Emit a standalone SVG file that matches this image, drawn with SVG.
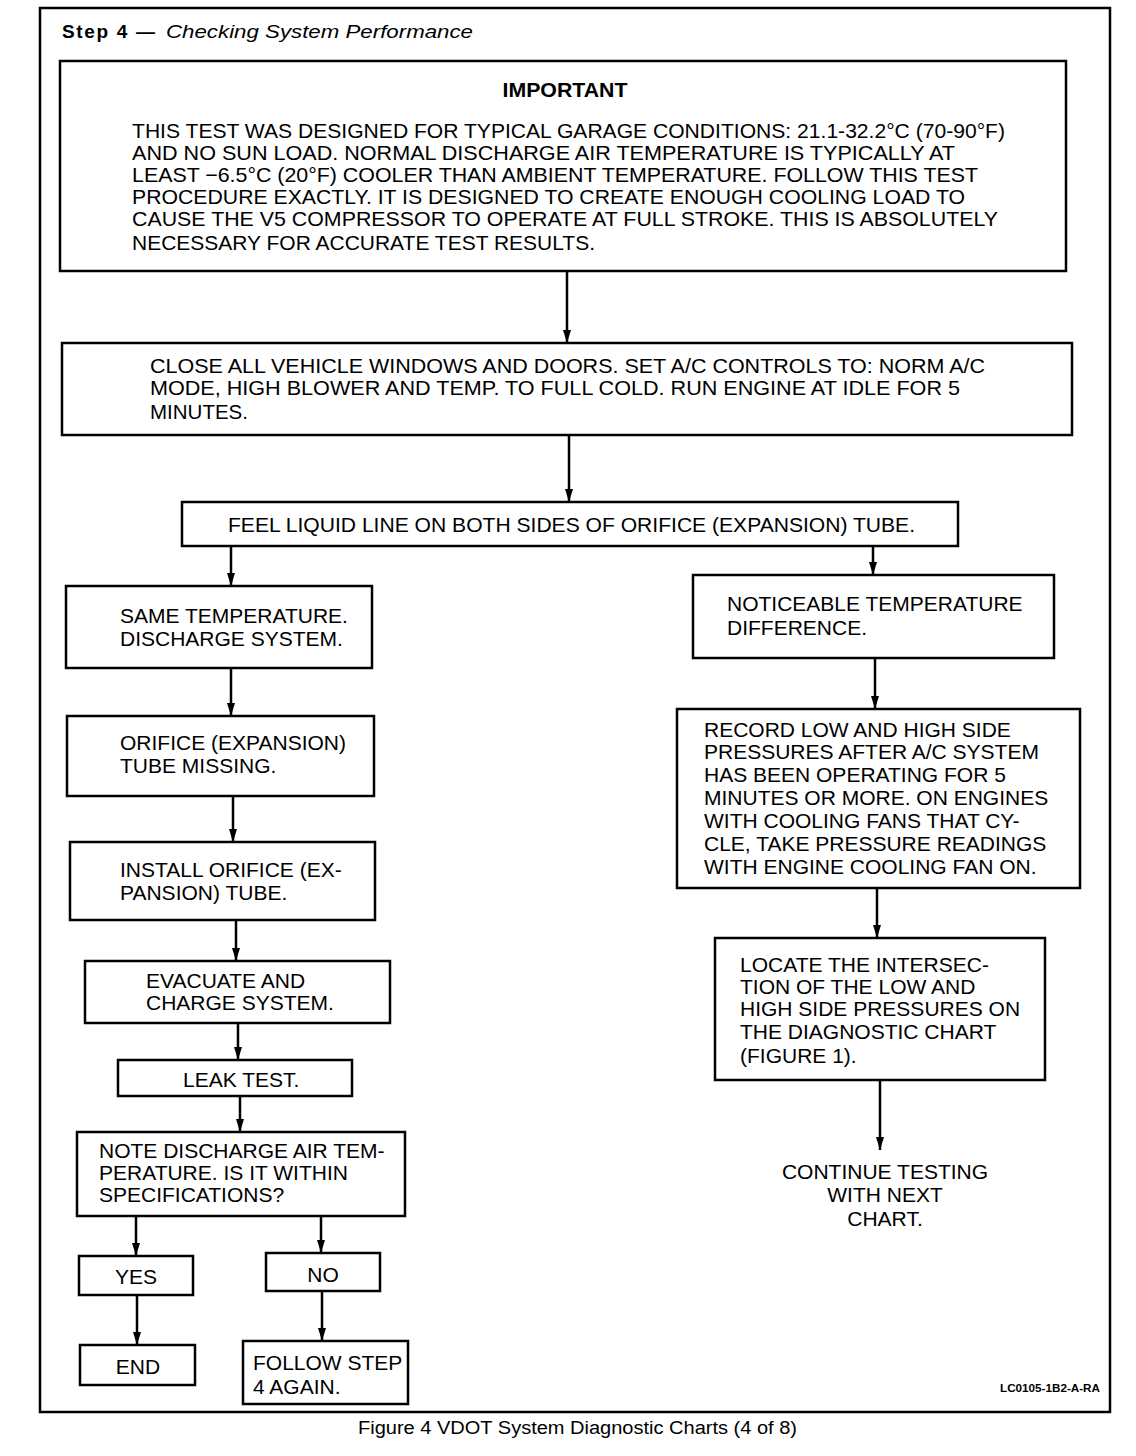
<svg xmlns="http://www.w3.org/2000/svg" width="1136" height="1456" viewBox="0 0 1136 1456">
<style>
.box{fill:none;stroke:#000;stroke-width:2.5}
.frame{fill:none;stroke:#000;stroke-width:2.5}
.t{font-family:"Liberation Sans",Arial,sans-serif;font-size:21px;fill:#000}
.n{font-family:"Liberation Sans",Arial,sans-serif;font-size:21px;fill:#000}
.mid{text-anchor:middle}
.conn line{stroke:#000;stroke-width:2.5;marker-end:url(#ah)}
</style>
<defs>
<marker id="ah" viewBox="0 0 13 8" refX="13" refY="4" markerWidth="13" markerHeight="8" markerUnits="userSpaceOnUse" orient="auto">
<path d="M0,0 L13,4 L0,8 z" fill="#000"/>
</marker>
</defs>
<rect width="1136" height="1456" fill="#fff"/>
<rect class="frame" x="40" y="8" width="1070" height="1404"/>
<text x="62" y="38" font-family="Liberation Sans,Arial,sans-serif" font-size="19" fill="#000"><tspan font-weight="bold" textLength="93" lengthAdjust="spacing">Step 4 —</tspan><tspan x="166" font-style="italic" textLength="307" lengthAdjust="spacingAndGlyphs">Checking System Performance</tspan></text>

<g id="important">
<rect class="box" x="60" y="61" width="1006" height="210"/>
<text class="t mid" x="565" y="97" font-weight="bold" font-size="20" textLength="125" lengthAdjust="spacingAndGlyphs">IMPORTANT</text>
<text class="n" x="132" y="138" textLength="873" lengthAdjust="spacingAndGlyphs">THIS TEST WAS DESIGNED FOR TYPICAL GARAGE CONDITIONS: 21.1-32.2°C (70-90°F)</text>
<text class="n" x="132" y="160" textLength="823" lengthAdjust="spacingAndGlyphs">AND NO SUN LOAD. NORMAL DISCHARGE AIR TEMPERATURE IS TYPICALLY AT</text>
<text class="n" x="132" y="182" textLength="846" lengthAdjust="spacingAndGlyphs">LEAST −6.5°C (20°F) COOLER THAN AMBIENT TEMPERATURE. FOLLOW THIS TEST</text>
<text class="n" x="132" y="204" textLength="833" lengthAdjust="spacingAndGlyphs">PROCEDURE EXACTLY. IT IS DESIGNED TO CREATE ENOUGH COOLING LOAD TO</text>
<text class="n" x="132" y="226" textLength="866" lengthAdjust="spacingAndGlyphs">CAUSE THE V5 COMPRESSOR TO OPERATE AT FULL STROKE. THIS IS ABSOLUTELY</text>
<text class="n" x="132" y="250" textLength="463" lengthAdjust="spacingAndGlyphs">NECESSARY FOR ACCURATE TEST RESULTS.</text>
</g>

<g id="close">
<rect class="box" x="62" y="343" width="1010" height="92"/>
<text class="n" x="150" y="373" textLength="835" lengthAdjust="spacingAndGlyphs">CLOSE ALL VEHICLE WINDOWS AND DOORS. SET A/C CONTROLS TO: NORM A/C</text>
<text class="n" x="150" y="395" textLength="810" lengthAdjust="spacingAndGlyphs">MODE, HIGH BLOWER AND TEMP. TO FULL COLD. RUN ENGINE AT IDLE FOR 5</text>
<text class="n" x="150" y="419" textLength="98" lengthAdjust="spacingAndGlyphs">MINUTES.</text>
</g>

<g id="feel">
<rect class="box" x="182" y="502" width="776" height="44"/>
<text class="n" x="228" y="532" font-size="23" textLength="687" lengthAdjust="spacingAndGlyphs">FEEL LIQUID LINE ON BOTH SIDES OF ORIFICE (EXPANSION) TUBE.</text>
</g>

<g id="same">
<rect class="box" x="66" y="586" width="306" height="82"/>
<text class="t" x="120" y="623">SAME TEMPERATURE.</text>
<text class="t" x="120" y="646">DISCHARGE SYSTEM.</text>
</g>

<g id="noticeable">
<rect class="box" x="693" y="575" width="361" height="83"/>
<text class="t" x="727" y="611">NOTICEABLE TEMPERATURE</text>
<text class="t" x="727" y="635">DIFFERENCE.</text>
</g>

<g id="missing">
<rect class="box" x="67" y="716" width="307" height="80"/>
<text class="t" x="120" y="750">ORIFICE (EXPANSION)</text>
<text class="t" x="120" y="773">TUBE MISSING.</text>
</g>

<g id="install">
<rect class="box" x="70" y="842" width="305" height="78"/>
<text class="t" x="120" y="877">INSTALL ORIFICE (EX-</text>
<text class="t" x="120" y="900">PANSION) TUBE.</text>
</g>

<g id="evacuate">
<rect class="box" x="85" y="961" width="305" height="62"/>
<text class="t" x="146" y="988">EVACUATE AND</text>
<text class="t" x="146" y="1010">CHARGE SYSTEM.</text>
</g>

<g id="leak">
<rect class="box" x="118" y="1060" width="234" height="36"/>
<text class="t" x="183" y="1087">LEAK TEST.</text>
</g>

<g id="note">
<rect class="box" x="77" y="1132" width="328" height="84"/>
<text class="t" x="99" y="1158">NOTE DISCHARGE AIR TEM-</text>
<text class="t" x="99" y="1180">PERATURE. IS IT WITHIN</text>
<text class="t" x="99" y="1202">SPECIFICATIONS?</text>
</g>

<g id="yes">
<rect class="box" x="79" y="1256" width="114" height="39"/>
<text class="t mid" x="136" y="1284">YES</text>
</g>

<g id="no">
<rect class="box" x="266" y="1253" width="114" height="38"/>
<text class="t mid" x="323" y="1282">NO</text>
</g>

<g id="end">
<rect class="box" x="80" y="1345" width="115" height="40"/>
<text class="t mid" x="138" y="1374">END</text>
</g>

<g id="follow">
<rect class="box" x="243" y="1341" width="165" height="63"/>
<text class="t" x="253" y="1370">FOLLOW STEP</text>
<text class="t" x="253" y="1394">4 AGAIN.</text>
</g>

<g id="record">
<rect class="box" x="677" y="709" width="403" height="179"/>
<text class="t" x="704" y="737">RECORD LOW AND HIGH SIDE</text>
<text class="t" x="704" y="759">PRESSURES AFTER A/C SYSTEM</text>
<text class="t" x="704" y="782">HAS BEEN OPERATING FOR 5</text>
<text class="t" x="704" y="805">MINUTES OR MORE. ON ENGINES</text>
<text class="t" x="704" y="828">WITH COOLING FANS THAT CY-</text>
<text class="t" x="704" y="851">CLE, TAKE PRESSURE READINGS</text>
<text class="t" x="704" y="874">WITH ENGINE COOLING FAN ON.</text>
</g>

<g id="locate">
<rect class="box" x="715" y="938" width="330" height="142"/>
<text class="t" x="740" y="972">LOCATE THE INTERSEC-</text>
<text class="t" x="740" y="994">TION OF THE LOW AND</text>
<text class="t" x="740" y="1016">HIGH SIDE PRESSURES ON</text>
<text class="t" x="740" y="1039">THE DIAGNOSTIC CHART</text>
<text class="t" x="740" y="1063">(FIGURE 1).</text>
</g>

<g id="continue">
<text class="t mid" x="885" y="1179">CONTINUE TESTING</text>
<text class="t mid" x="885" y="1202">WITH NEXT</text>
<text class="t mid" x="885" y="1226">CHART.</text>
</g>

<g id="connectors" class="conn">
<line x1="567" y1="271" x2="567" y2="343"/>
<line x1="569" y1="435" x2="569" y2="502"/>
<line x1="231" y1="546" x2="231" y2="586"/>
<line x1="873" y1="546" x2="873" y2="575"/>
<line x1="231" y1="668" x2="231" y2="716"/>
<line x1="233" y1="796" x2="233" y2="842"/>
<line x1="236" y1="920" x2="236" y2="961"/>
<line x1="238" y1="1023" x2="238" y2="1060"/>
<line x1="240" y1="1096" x2="240" y2="1132"/>
<line x1="136" y1="1216" x2="136" y2="1256"/>
<line x1="321" y1="1216" x2="321" y2="1253"/>
<line x1="137" y1="1295" x2="137" y2="1345"/>
<line x1="322" y1="1291" x2="322" y2="1341"/>
<line x1="875" y1="658" x2="875" y2="709"/>
<line x1="877" y1="888" x2="877" y2="938"/>
<line x1="880" y1="1080" x2="880" y2="1150"/>
</g>

<text x="1100" y="1392" font-family="Liberation Sans,Arial,sans-serif" font-size="11" font-weight="bold" text-anchor="end" fill="#000" textLength="100" lengthAdjust="spacingAndGlyphs">LC0105-1B2-A-RA</text>
<text x="358" y="1434" font-family="Liberation Sans,Arial,sans-serif" font-size="18" fill="#000" textLength="439" lengthAdjust="spacingAndGlyphs">Figure 4 VDOT System Diagnostic Charts (4 of 8)</text>
</svg>
